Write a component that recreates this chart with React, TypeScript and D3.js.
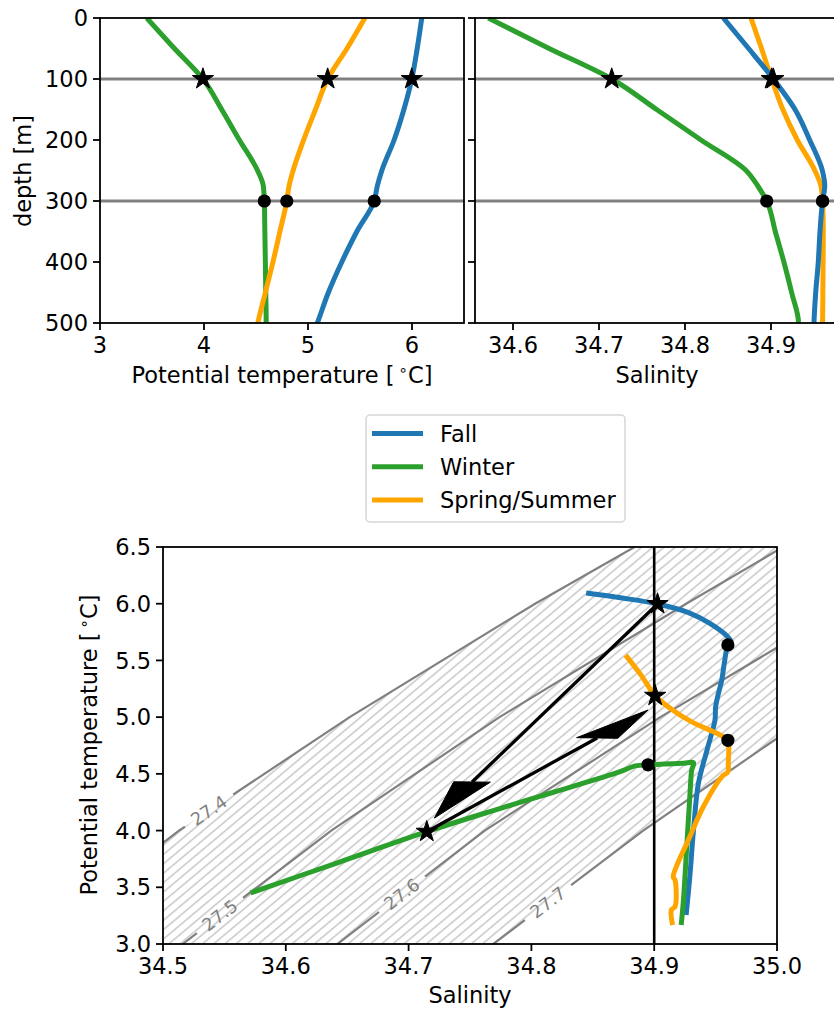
import React from 'react';
import * as d3 from 'd3';

// profiles (depths below 500 m only show in the T-S panel)
const fallDepth = [0, 50, 100, 150, 200, 250, 275, 300, 350, 400, 450, 500, 550, 650, 750, 900, 1100, 1400];
const fallTemp = [6.094, 6.05, 5.998, 5.922, 5.828, 5.71, 5.667, 5.637, 5.47, 5.325, 5.196, 5.09, 4.974, 4.71, 4.416, 4.004, 3.593, 3.255];
const fallSalt = [34.8446, 34.874, 34.9027, 34.928, 34.945, 34.9597, 34.9625, 34.96, 34.957, 34.955, 34.952, 34.95, 34.9495, 34.943, 34.936, 34.932, 34.929, 34.926];

const winterDepth = [0, 50, 100, 150, 200, 250, 275, 300, 350, 400, 450, 500, 550, 700, 900, 1100, 1300];
const winterTemp = [3.45, 3.716, 3.99, 4.17, 4.34, 4.515, 4.57, 4.58, 4.585, 4.59, 4.594, 4.598, 4.53, 4.298, 3.857, 3.416, 3.167];
const winterSalt = [34.5713, 34.642, 34.7148, 34.767, 34.8186, 34.871, 34.8845, 34.895, 34.905, 34.915, 34.924, 34.932, 34.9305, 34.929, 34.9265, 34.924, 34.922];

const springDepth = [0, 50, 100, 150, 200, 250, 275, 300, 350, 400, 450, 500, 550, 650, 750, 900, 950, 1100, 1150, 1300];
const springTemp = [5.547, 5.375, 5.189, 5.072, 4.958, 4.857, 4.818, 4.796, 4.73, 4.663, 4.59, 4.518, 4.474, 4.21, 3.945, 3.593, 3.564, 3.33, 3.3, 3.167];
const springSalt = [34.8767, 34.889, 34.9008, 34.9138, 34.9306, 34.951, 34.958, 34.96, 34.9608, 34.9606, 34.9603, 34.96, 34.955, 34.94, 34.929, 34.9155, 34.917, 34.917, 34.914, 34.915];

const seasonNames = ['Fall', 'Winter', 'Spring/Summer'];
const seasonColors = ['#1f77b4', '#2ca02c', '#ffa500'];

const starDepth = 100;
const dotDepth = 300;

const tempTicks = [3, 4, 5, 6];
const depthTicks = [0, 100, 200, 300, 400, 500];
const saltTicks = [34.6, 34.7, 34.8, 34.9];
const tsTempTicks = [3.0, 3.5, 4.0, 4.5, 5.0, 5.5, 6.0, 6.5];
const tsSaltTicks = [34.5, 34.6, 34.7, 34.8, 34.9, 35.0];

// isopycnals (sigma0)
const isoLevels = [27.4, 27.5, 27.6, 27.7];
const isoSalt = [
  [34.393, 34.513, 34.652, 34.803, 34.884],
  [34.516, 34.637, 34.774, 34.926, 35.005],
  [34.642, 34.762, 34.905, 35.06],
  [34.769, 34.891, 35.025],
];
const isoTemp = [
  [3.0, 4.0, 5.0, 6.0, 6.5],
  [3.0, 4.0, 5.0, 6.0, 6.5],
  [3.0, 4.0, 5.0, 6.0],
  [3.0, 4.0, 5.0],
];
const isoLabelSalt = [34.5375, 34.5464, 34.6946, 34.8135];

const refSalinity = 34.9;

// arrows: start at a season's star, tip
const arrowFromSeason = [0, 1];
const arrowTipSalt = [34.721, 34.895];
const arrowTipTemp = [4.11, 5.063];
const arrowHeadWidth = [0.03, 0.034];
const arrowHeadLength = [0.32, 0.25];

const FONT = 'DejaVu Sans';
const FS = 22.5;
const SPINE = 1.8;
const TICK = 7;

const App = () => {
  const seasons = seasonNames.map((name, k) => ({
    name,
    color: seasonColors[k],
    depth: [fallDepth, winterDepth, springDepth][k],
    temp: [fallTemp, winterTemp, springTemp][k],
    salt: [fallSalt, winterSalt, springSalt][k],
  }));

  const xT = d3.scaleLinear().domain([3, 6.5]).range([100, 464]);
  const yD = d3.scaleLinear().domain([0, 500]).range([18, 323]);
  const xS = d3.scaleLinear().domain([34.5558, 34.9756]).range([475, 836]);
  const tsX = d3.scaleLinear().domain([34.5, 35.0]).range([163, 777]);
  const tsY = d3.scaleLinear().domain([3.0, 6.5]).range([944, 547]);

  const profT = (s) =>
    d3.line<number>().x((i) => xT(s.temp[i])).y((i) => yD(s.depth[i])).curve(d3.curveMonotoneY)(s.depth.map((_, i) => i));
  const profS = (s) =>
    d3.line<number>().x((i) => xS(s.salt[i])).y((i) => yD(s.depth[i])).curve(d3.curveMonotoneY)(s.depth.map((_, i) => i));
  const tsLine = (s) =>
    d3
      .line<number>()
      .x((i) => tsX(s.salt[i]))
      .y((i) => tsY(s.temp[i]))
      .curve(d3.curveCatmullRom.alpha(0.5))(s.depth.map((_, i) => i));

  const star = d3.symbol().type(d3.symbolStar).size(140)();
  const idx = (s, d) => s.depth.indexOf(d);

  // isopycnal geometry
  const isoPts = isoLevels.map((_, k) => isoSalt[k].map((v, i) => [tsX(v), tsY(isoTemp[k][i])]));
  const isoPath = (k) => d3.line()(isoPts[k] as [number, number][]);
  const labels = isoLevels.map((lev, k) => {
    const S = isoLabelSalt[k];
    const ss = isoSalt[k];
    let j = 0;
    while (j < ss.length - 2 && ss[j + 1] < S) j++;
    const f = (S - ss[j]) / (ss[j + 1] - ss[j]);
    const T = isoTemp[k][j] + f * (isoTemp[k][j + 1] - isoTemp[k][j]);
    const [x1, y1] = isoPts[k][j];
    const [x2, y2] = isoPts[k][j + 1];
    const ang = (Math.atan2(y2 - y1, x2 - x1) * 180) / Math.PI;
    return { text: String(lev), x: tsX(S), y: tsY(T), ang };
  });
  const hatchPoly = [
    ...isoSalt[0].map((v, i) => [v, isoTemp[0][i]]),
    [36, 7],
    ...isoSalt[3].map((v, i) => [v, isoTemp[3][i]]).reverse(),
    [34.3, 2.5],
  ]
    .map(([s, t]) => `${tsX(s)},${tsY(t)}`)
    .join(' ');

  const arrows = arrowFromSeason.map((k, a) => {
    const s = seasons[k];
    const i = idx(s, starDepth);
    const from = [s.salt[i], s.temp[i]];
    const tip = [arrowTipSalt[a], arrowTipTemp[a]];
    const dx = tip[0] - from[0];
    const dy = tip[1] - from[1];
    const L = Math.hypot(dx, dy);
    const ux = dx / L;
    const uy = dy / L;
    const hl = arrowHeadLength[a];
    const hw = arrowHeadWidth[a] / 2;
    const b = [tip[0] - hl * ux, tip[1] - hl * uy];
    const c1 = [b[0] - hw * uy, b[1] + hw * ux];
    const c2 = [b[0] + hw * uy, b[1] - hw * ux];
    const px = (p) => [tsX(p[0]), tsY(p[1])];
    return { from: px(from), base: px(b), head: [px(tip), px(c1), px(c2)] };
  });

  const txt = { fontFamily: FONT, fontSize: FS, fill: '#000' };

  const marks = (s, fx, fy) => {
    const i = idx(s, starDepth);
    const j = idx(s, dotDepth);
    return (
      <g key={s.name}>
        <path d={star} transform={`translate(${fx(s, i)},${fy(s, i)})`} fill="#000" stroke="#000" strokeWidth={1} />
        <circle cx={fx(s, j)} cy={fy(s, j)} r={6.6} fill="#000" />
      </g>
    );
  };

  const topPanel = (x0, x1, scale, ticks, fmt, showY, key) => (
    <g key={key}>
      {[100, 300].map((d) => (
        <line key={d} x1={x0} x2={x1} y1={yD(d)} y2={yD(d)} stroke="#808080" strokeWidth={3} />
      ))}
      {depthTicks.map((d) => (
        <g key={'y' + d}>
          <line x1={x0 - TICK} x2={x0} y1={yD(d)} y2={yD(d)} stroke="#000" strokeWidth={SPINE} />
          {showY && (
            <text {...txt} x={x0 - 12} y={yD(d)} dy="0.36em" textAnchor="end">
              {d}
            </text>
          )}
        </g>
      ))}
      {ticks.map((t) => (
        <g key={'x' + t}>
          <line x1={scale(t)} x2={scale(t)} y1={323} y2={323 + TICK} stroke="#000" strokeWidth={SPINE} />
          <text {...txt} x={scale(t)} y={353} textAnchor="middle">
            {fmt(t)}
          </text>
        </g>
      ))}
    </g>
  );

  return (
    <svg width={834} height={1010} style={{ position: 'absolute', left: 0, top: 0, background: '#fff' }}>
      <defs>
        <clipPath id="cl">
          <rect x={100} y={18} width={364} height={305} />
        </clipPath>
        <clipPath id="cr">
          <rect x={475} y={18} width={361} height={305} />
        </clipPath>
        <clipPath id="cts">
          <rect x={163} y={547} width={614} height={397} />
        </clipPath>
        <pattern id="hatch" patternUnits="userSpaceOnUse" width={20} height={7.2} patternTransform="rotate(-40)">
          <line x1={-2} x2={22} y1={3.6} y2={3.6} stroke="#c8c8c8" strokeWidth={1.5} />
        </pattern>
        <mask id="lblmask" maskUnits="userSpaceOnUse" x={0} y={0} width={834} height={1010}>
          <rect x={0} y={0} width={834} height={1010} fill="#fff" />
          {labels.map((l, k) => (
            <rect
              key={k}
              x={-29}
              y={-10}
              width={58}
              height={20}
              fill="#000"
              transform={`translate(${l.x},${l.y}) rotate(${l.ang})`}
            />
          ))}
        </mask>
      </defs>

      {/* top left: temperature profiles */}
      {topPanel(100, 464, xT, tempTicks, (t) => String(t), true, 'tl')}
      <g clipPath="url(#cl)">
        {seasons.map((s) => (
          <path key={s.name} d={profT(s)} fill="none" stroke={s.color} strokeWidth={5} />
        ))}
        {seasons.map((s) => marks(s, (q, i) => xT(q.temp[i]), (q, i) => yD(q.depth[i])))}
      </g>
      <rect x={100} y={18} width={364} height={305} fill="none" stroke="#000" strokeWidth={SPINE} />
      <text {...txt} transform="translate(31,171) rotate(-90)" textAnchor="middle">
        depth [m]
      </text>
      <text {...txt} x={282} y={383} textAnchor="middle">
        Potential temperature [<tspan dx={4} dy={-8} fontSize={15}>∘</tspan>
        <tspan dy={8}>C]</tspan>
      </text>

      {/* top right: salinity profiles */}
      {topPanel(475, 836, xS, saltTicks, (t) => t.toFixed(1), false, 'tr')}
      <g clipPath="url(#cr)">
        {[2, 0, 1].map((k) => (
          <path key={k} d={profS(seasons[k])} fill="none" stroke={seasons[k].color} strokeWidth={5} />
        ))}
        {seasons.map((s) => marks(s, (q, i) => xS(q.salt[i]), (q, i) => yD(q.depth[i])))}
      </g>
      <rect x={475} y={18} width={361} height={305} fill="none" stroke="#000" strokeWidth={SPINE} />
      <text {...txt} x={657} y={383} textAnchor="middle">
        Salinity
      </text>

      {/* legend */}
      <rect x={366} y={415} width={259} height={107} rx={4} fill="#fff" stroke="#d6d6d6" strokeWidth={1.5} />
      {seasons.map((s, k) => (
        <g key={s.name}>
          <line x1={372} x2={423} y1={433.5 + 33.3 * k} y2={433.5 + 33.3 * k} stroke={s.color} strokeWidth={5} />
          <text {...txt} x={440} y={441.5 + 33.3 * k}>
            {s.name}
          </text>
        </g>
      ))}

      {/* T-S diagram */}
      <g clipPath="url(#cts)">
        <polygon points={hatchPoly} fill="url(#hatch)" />
        <g mask="url(#lblmask)">
          {isoLevels.map((lev, k) => (
            <path key={lev} d={isoPath(k)} fill="none" stroke="#808080" strokeWidth={2.2} />
          ))}
        </g>
        {labels.map((l, k) => (
          <text
            key={k}
            fontFamily={FONT}
            fontSize={17.6}
            fill="#808080"
            textAnchor="middle"
            dominantBaseline="central"
            transform={`translate(${l.x},${l.y}) rotate(${l.ang})`}
          >
            {l.text}
          </text>
        ))}
        <line x1={tsX(refSalinity)} x2={tsX(refSalinity)} y1={547} y2={944} stroke="#000" strokeWidth={2.6} />
        {seasons.map((s) => (
          <path key={s.name} d={tsLine(s)} fill="none" stroke={s.color} strokeWidth={5} strokeLinejoin="round" />
        ))}
        {arrows.map((a, k) => (
          <g key={k}>
            <line x1={a.from[0]} y1={a.from[1]} x2={a.base[0]} y2={a.base[1]} stroke="#000" strokeWidth={3.3} />
            <polygon points={a.head.map((p) => p.join(',')).join(' ')} fill="#000" stroke="#000" strokeWidth={1} />
          </g>
        ))}
        {seasons.map((s) => marks(s, (q, i) => tsX(q.salt[i]), (q, i) => tsY(q.temp[i])))}
      </g>
      <rect x={163} y={547} width={614} height={397} fill="none" stroke="#000" strokeWidth={SPINE} />
      {tsTempTicks.map((t) => (
        <g key={'ty' + t}>
          <line x1={163 - TICK} x2={163} y1={tsY(t)} y2={tsY(t)} stroke="#000" strokeWidth={SPINE} />
          <text {...txt} x={151} y={tsY(t)} dy="0.36em" textAnchor="end">
            {t.toFixed(1)}
          </text>
        </g>
      ))}
      {tsSaltTicks.map((t) => (
        <g key={'tx' + t}>
          <line x1={tsX(t)} x2={tsX(t)} y1={944} y2={944 + TICK} stroke="#000" strokeWidth={SPINE} />
          <text {...txt} x={tsX(t)} y={974} textAnchor="middle">
            {t.toFixed(1)}
          </text>
        </g>
      ))}
      <text {...txt} transform="translate(97,745) rotate(-90)" textAnchor="middle">
        Potential temperature [<tspan dx={4} dy={-8} fontSize={15}>∘</tspan>
        <tspan dy={8}>C]</tspan>
      </text>
      <text {...txt} x={470} y={1003} textAnchor="middle">
        Salinity
      </text>
    </svg>
  );
};

export default App;
